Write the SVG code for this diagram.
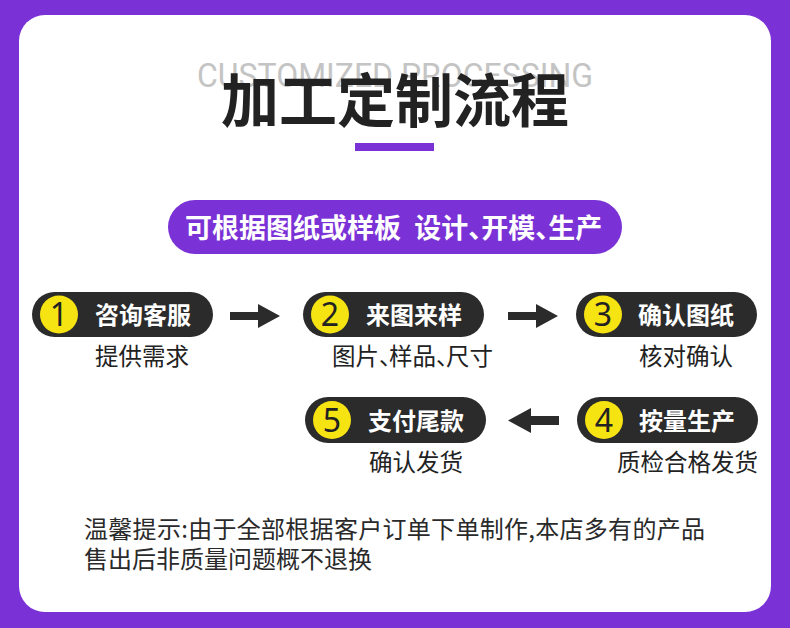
<svg xmlns="http://www.w3.org/2000/svg" width="790" height="628" viewBox="0 0 790 628">
<defs>
<style>
.cjk{font-family:"Noto Sans CJK SC","Noto Sans",sans-serif}
.lbl{font-family:"Noto Sans CJK SC",sans-serif;font-size:24px;font-weight:700;fill:#ffffff}
.sub{font-family:"Noto Sans CJK SC",sans-serif;font-size:23.5px;fill:#222222}
.pill{fill:#2b2b2b}
.dot{fill:#f6e412}
.num{font-family:"Noto Sans","Open Sans",sans-serif;font-size:32px;fill:#222222;text-anchor:middle}
.arr{fill:#2b2b2b}
.note{font-family:"Noto Sans CJK SC",sans-serif;font-size:24px;fill:#2a2a2a}
</style>
</defs>
<rect x="0" y="0" width="790" height="628" fill="#7a32d6"/>
<rect x="19" y="15" width="752" height="597" rx="26" fill="#ffffff"/>
<g id="header">
<text x="197" y="87" font-family="Roboto,'Open Sans',sans-serif" font-size="33" fill="#c4c4c4" textLength="396" lengthAdjust="spacingAndGlyphs">CUSTOMIZED PROCESSING</text>
<text x="395" y="122" class="cjk" font-size="58" font-weight="700" fill="#222222" text-anchor="middle">加工定制流程</text>
<rect x="355" y="143" width="79" height="8" fill="#7a32d6"/>
</g>
<g id="banner">
<rect x="168" y="200" width="454" height="54" rx="27" fill="#7a32d6"/>
<text x="185" y="238" class="cjk" font-size="27" font-weight="700" fill="#ffffff" dx="0 0 0 0 0 0 0 0 7 0 0 0 -14 0 0 -14 0">可根据图纸或样板 设计、开模、生产</text>
</g>
<g id="step1">
<rect class="pill" x="32" y="292" width="181" height="45" rx="22.5"/>
<circle class="dot" cx="59" cy="314.5" r="19"/>
<text class="num" x="59" y="326">1</text>
<text class="lbl" x="95" y="323.5">咨询客服</text>
<text class="sub" x="142" y="365" text-anchor="middle">提供需求</text>
</g>
<g id="step2">
<rect class="pill" x="303" y="292" width="181" height="45" rx="22.5"/>
<circle class="dot" cx="330" cy="314.5" r="19"/>
<text class="num" x="330" y="326">2</text>
<text class="lbl" x="366" y="323.5">来图来样</text>
<text class="sub" x="332" y="365" dx="0 0 0 -13.5 0 0 -13.5 0">图片、样品、尺寸</text>
</g>
<g id="step3">
<rect class="pill" x="576" y="292" width="181" height="45" rx="22.5"/>
<circle class="dot" cx="603" cy="314.5" r="19"/>
<text class="num" x="603" y="326">3</text>
<text class="lbl" x="638" y="323.5">确认图纸</text>
<text class="sub" x="686" y="365" text-anchor="middle">核对确认</text>
</g>
<g id="step4">
<rect class="pill" x="577" y="397" width="181" height="46" rx="23"/>
<circle class="dot" cx="604" cy="420" r="19"/>
<text class="num" x="604" y="431.5">4</text>
<text class="lbl" x="639" y="430">按量生产</text>
<text class="sub" x="687.5" y="471" text-anchor="middle">质检合格发货</text>
</g>
<g id="step5">
<rect class="pill" x="305" y="397" width="181" height="46" rx="23"/>
<circle class="dot" cx="332" cy="420" r="19"/>
<text class="num" x="332" y="431.5">5</text>
<text class="lbl" x="368" y="430">支付尾款</text>
<text class="sub" x="416" y="471" text-anchor="middle">确认发货</text>
</g>
<g id="connectors">
<polygon class="arr" points="230,312 258,312 258,304 280,316 258,328 258,320 230,320"/>
<polygon class="arr" points="508,312 536,312 536,304 558,316 536,328 536,320 508,320"/>
<polygon class="arr" points="559,416 531,416 531,408 508,420.5 531,433 531,425 559,425"/>
</g>
<g id="note">
<text class="note"><tspan x="84" y="538" textLength="621" lengthAdjust="spacing">温馨提示:由于全部根据客户订单下单制作,本店多有的产品</tspan><tspan x="84" y="568">售出后非质量问题概不退换</tspan></text>
</g>
</svg>
